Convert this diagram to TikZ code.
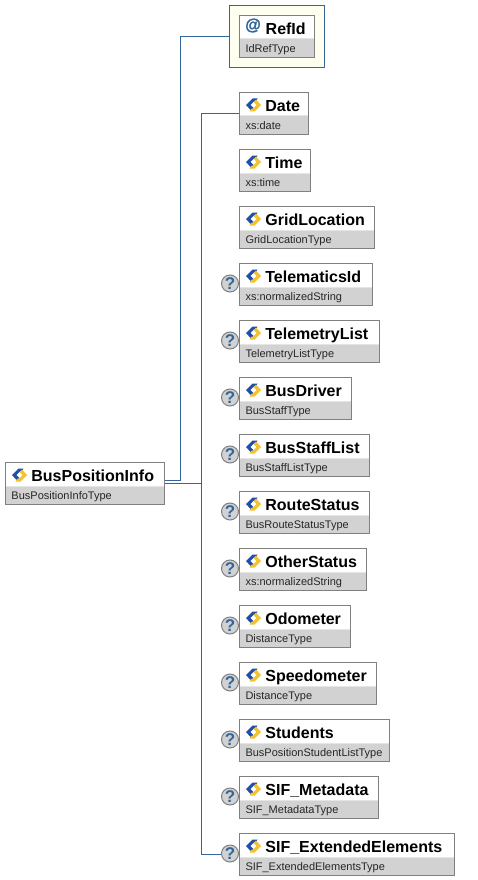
\documentclass[tikz,border=0pt]{standalone}
\usepackage{fontspec}
\setmainfont{Liberation Sans}
\newfontfamily\atfont[BoldFont={Liberation Sans Bold},BoldFeatures={FakeBold=1.5}]{Liberation Sans}
\definecolor{linkblue}{HTML}{336699}
\definecolor{boxedge}{HTML}{808080}
\definecolor{typegray}{HTML}{D2D2D2}
\definecolor{attrbg}{HTML}{FFFFF0}
\definecolor{icoblue}{HTML}{1F4FA8}
\definecolor{icoyellow}{HTML}{F2C230}
\tikzset{
  x=1pt,y=-1pt,
  link/.style={draw=linkblue,line width=1pt},
  boxframe/.style={fill=white,rectangle,anchor=north west,inner sep=0pt,outer sep=0pt},
  title/.style={font=\bfseries\fontsize{16}{16}\selectfont,anchor=base west,inner sep=0pt,text=black},
  typetext/.style={font=\fontsize{11}{11}\selectfont,anchor=base west,inner sep=0pt,text=black!85},
  opt/.style={circle,draw=boxedge,line width=1pt,fill=typegray,minimum size=17pt,inner sep=0pt,outer sep=0pt,
    font=\bfseries\fontsize{17}{17}\selectfont,text=linkblue},
}
% #1 name, #2 x, #3 y, #4 width, #5 title, #6 type
\newcommand{\elbox}[6]{%
  \node[boxframe,minimum width=#4pt,minimum height=42pt] (#1) at (#2,#3) {};
  \fill[typegray] (#2,#3+24) rectangle (#2+#4,#3+42);
  \fill[white!90!black] (#2,#3+23) rectangle (#2+#4,#3+24);
  \draw[draw=boxedge,line width=1pt] (#1.north west) rectangle (#1.south east);
  \node[title] (#1t) at (#2+25.7,#3+19) {#5};
  \node[typetext] (#1s) at (#2+5.8,#3+37) {#6};
  \elicon{#2+14}{#3+12.5}%
}
\newcommand{\elicon}[2]{%
  \begin{scope}[shift={(#1,#2)}]
    \fill[icoblue] (-7.5,0) -- (-1,-6.5) -- (4,-6.5) -- (2.5,-4) -- (0,-3.2) -- (-3,0) -- (0,3) -- (-2.5,5.5) -- cycle;
    \fill[icoyellow] (7.5,0) -- (1,6.5) -- (-4,6.5) -- (-2.5,4) -- (0,3.2) -- (3,0) -- (0,-3) -- (2.5,-5.5) -- cycle;
    \fill[white] (-2.2,0) -- (0,-2.2) -- (2.2,0) -- (0,2.2) -- cycle;
  \end{scope}%
}
\newcommand{\optmark}[2]{\node[opt] (#1) at (230,#2) {?};}
\begin{document}
\begin{tikzpicture}
\useasboundingbox (0,0) rectangle (477,880);
\fill[white] (0,0) rectangle (477,880);
% attribute frame
\node[draw=linkblue,line width=1pt,fill=attrbg,rectangle,anchor=north west,inner sep=0pt,outer sep=0pt,
  minimum width=95pt,minimum height=62pt] (refframe) at (229.5,5.5) {};
\coordinate (trunktop) at (201.5,113.5);
\coordinate (trunkbot) at (201.5,854.5);
\coordinate (fork) at (180.5,480.5);
\coordinate (busa) at (164.5,480.5);
\coordinate (busb) at (164.5,483.5);
\coordinate (junction) at (201.5,483.5);
\coordinate (refin) at (229.5,36.5);
\coordinate (datein) at (239.5,113.5);
\coordinate (extin) at (221,854.5);
\draw[link] (busa) -- (fork) -- (fork |- refin) -- (refin);
\draw[link] (busb) -- (junction);
\draw[link] (datein) -- (trunktop) -- (trunkbot) -- (extin);
\elbox{bus}{5.5}{462.5}{159}{BusPositionInfo}{BusPositionInfoType}
% RefId
\node[boxframe,minimum width=75pt,minimum height=42pt] (ref) at (239.5,15.5) {};
\fill[typegray] (239.5,39.5) rectangle (314.5,57.5);
\fill[white!90!black] (239.5,38.5) rectangle (314.5,39.5);
\draw[draw=boxedge,line width=1pt] (ref.north west) rectangle (ref.south east);
\node[title] (reft) at (265.5,34.5) {RefId};
\node[typetext] (refs) at (245.3,52.5) {IdRefType};
\node[font=\atfont\bfseries\fontsize{16}{16}\selectfont,text=linkblue,inner sep=0pt] (refat) at (253,25.5) {@};
\elbox{date}{239.5}{92.5}{69}{Date}{xs:date}
\elbox{time}{239.5}{149.5}{71}{Time}{xs:time}
\elbox{grid}{239.5}{206.5}{135}{GridLocation}{GridLocationType}
\optmark{qa}{283.5}
\elbox{tele}{239.5}{263.5}{133}{TelematicsId}{xs:normalizedString}
\optmark{qb}{340.5}
\elbox{tlist}{239.5}{320.5}{140}{TelemetryList}{TelemetryListType}
\optmark{qc}{397.5}
\elbox{driver}{239.5}{377.5}{112}{BusDriver}{BusStaffType}
\optmark{qd}{454.5}
\elbox{staff}{239.5}{434.5}{130}{BusStaffList}{BusStaffListType}
\optmark{qe}{511.5}
\elbox{route}{239.5}{491.5}{130}{RouteStatus}{BusRouteStatusType}
\optmark{qf}{568.5}
\elbox{other}{239.5}{548.5}{127}{OtherStatus}{xs:normalizedString}
\optmark{qg}{625.5}
\elbox{odo}{239.5}{605.5}{111}{Odometer}{DistanceType}
\optmark{qh}{682.5}
\elbox{speed}{239.5}{662.5}{137}{Speedometer}{DistanceType}
\optmark{qi}{739.5}
\elbox{stud}{239.5}{719.5}{150}{Students}{BusPositionStudentListType}
\optmark{qj}{796.5}
\elbox{meta}{239.5}{776.5}{139}{SIF\_Metadata}{SIF\_MetadataType}
\optmark{qk}{853.5}
\elbox{ext}{239.5}{833.5}{215}{SIF\_ExtendedElements}{SIF\_ExtendedElementsType}
\end{tikzpicture}
\end{document}
